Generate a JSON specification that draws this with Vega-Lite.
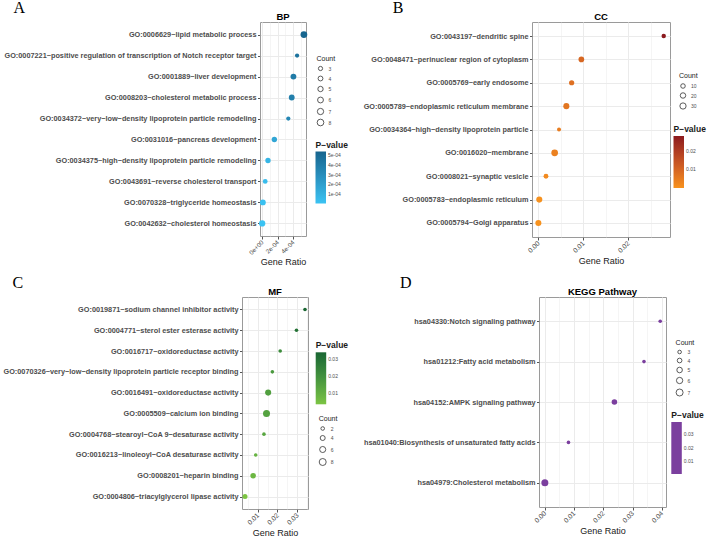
{
  "$schema": "https://vega.github.io/schema/vega-lite/v6.json",
  "padding": {"left": 2, "top": 0, "right": 0, "bottom": 0},
  "background": "white",
  "datasets": {
    "bp": [
      {"term": "GO:0006629~lipid metabolic process", "pval": 0.000539, "count": 8},
      {"term": "GO:0007221~positive regulation of transcription of Notch receptor target", "pval": 0.000451, "count": 3},
      {"term": "GO:0001889~liver development", "pval": 0.000404, "count": 6},
      {"term": "GO:0008203~cholesterol metabolic process", "pval": 0.000382, "count": 6},
      {"term": "GO:0034372~very−low−density lipoprotein particle remodeling", "pval": 0.000338, "count": 3},
      {"term": "GO:0031016~pancreas development", "pval": 0.000158, "count": 5},
      {"term": "GO:0034375~high−density lipoprotein particle remodeling", "pval": 0.000076, "count": 5},
      {"term": "GO:0043691~reverse cholesterol transport", "pval": 0.00004, "count": 4},
      {"term": "GO:0070328~triglyceride homeostasis", "pval": 0.00001, "count": 6},
      {"term": "GO:0042632~cholesterol homeostasis", "pval": 0.000001, "count": 7}
    ],
    "cc": [
      {"term": "GO:0043197~dendritic spine", "pval": 0.0279, "count": 9},
      {"term": "GO:0048471~perinuclear region of cytoplasm", "pval": 0.00958, "count": 22},
      {"term": "GO:0005769~early endosome", "pval": 0.00742, "count": 17},
      {"term": "GO:0005789~endoplasmic reticulum membrane", "pval": 0.00624, "count": 27},
      {"term": "GO:0034364~high−density lipoprotein particle", "pval": 0.00461, "count": 5},
      {"term": "GO:0016020~membrane", "pval": 0.00364, "count": 36},
      {"term": "GO:0008021~synaptic vesicle", "pval": 0.00171, "count": 13},
      {"term": "GO:0005783~endoplasmic reticulum", "pval": 0.00022, "count": 27},
      {"term": "GO:0005794~Golgi apparatus", "pval": 0.00002, "count": 27}
    ],
    "mf": [
      {"term": "GO:0019871~sodium channel inhibitor activity", "pval": 0.03396, "count": 2},
      {"term": "GO:0004771~sterol ester esterase activity", "pval": 0.02965, "count": 2},
      {"term": "GO:0016717~oxidoreductase activity", "pval": 0.0214, "count": 2},
      {"term": "GO:0070326~very−low−density lipoprotein particle receptor binding", "pval": 0.01743, "count": 2},
      {"term": "GO:0016491~oxidoreductase activity", "pval": 0.0153, "count": 6},
      {"term": "GO:0005509~calcium ion binding", "pval": 0.01446, "count": 8},
      {"term": "GO:0004768~stearoyl−CoA 9−desaturase activity", "pval": 0.01317, "count": 2},
      {"term": "GO:0016213~linoleoyl−CoA desaturase activity", "pval": 0.009, "count": 2},
      {"term": "GO:0008201~heparin binding", "pval": 0.0077, "count": 5},
      {"term": "GO:0004806~triacylglycerol lipase activity", "pval": 0.00357, "count": 4}
    ],
    "kegg": [
      {"term": "hsa04330:Notch signaling pathway", "pval": 0.03945, "count": 3},
      {"term": "hsa01212:Fatty acid metabolism", "pval": 0.0339, "count": 3},
      {"term": "hsa04152:AMPK signaling pathway", "pval": 0.0238, "count": 5},
      {"term": "hsa01040:Biosynthesis of unsaturated fatty acids", "pval": 0.0081, "count": 3},
      {"term": "hsa04979:Cholesterol metabolism", "pval": 0.00003, "count": 7}
    ]
  },
  "concat": [
    {
      "concat": [
        {
          "title": {"text": "A", "anchor": "start", "font": "Liberation Serif", "fontSize": 16, "fontWeight": "normal", "dx": 10, "offset": -5},
          "vconcat": [
            {
              "width": 64, "height": 214,
              "view": {"strokeDash": [0, 18, 306, 232]},
              "title": {"text": "BP", "offset": 1, "dx": 9},
              "data": {"name": "bp"},
              "mark": {"type": "circle", "opacity": 1},
              "encoding": {
                "y": {"field": "term", "type": "nominal", "sort": null, "scale": {"type": "point", "padding": 0.6},
                  "axis": {"title": null, "grid": true, "offset": -18, "domain": true, "domainColor": "#9a9a9a", "domainWidth": 1}},
                "x": {"field": "pval", "type": "quantitative", "title": "Gene Ratio",
                  "scale": {"domain": [-0.000027, 0.000566], "range": [18, 64], "nice": false, "zero": false},
                  "axis": {"values": [0, 0.0001, 0.0002, 0.0003, 0.0004, 0.0005], "labelFontSize": 6.2,
                    "labelExpr": "abs(datum.value/0.0002 - round(datum.value/0.0002)) < 0.01 ? replace(replace(format(datum.value, '.0e'), 'e-', 'e-0'), 'e+', 'e+0') : ''",
                    "tickOpacity": {"condition": {"test": "abs(datum.value/0.0002 - round(datum.value/0.0002)) < 0.01", "value": 1}, "value": 0},
                    "gridWidth": {"condition": {"test": "abs(datum.value/0.0002 - round(datum.value/0.0002)) < 0.01", "value": 1}, "value": 0.5}}},
                "size": {"field": "count", "type": "quantitative", "scale": {"domain": [3, 8], "range": [18, 45]},
                  "legend": {"title": "Count", "values": [3, 4, 5, 6, 7, 8], "orient": "none", "legendX": 74.5, "legendY": 32.5, "titlePadding": 4}},
                "fill": {"field": "pval", "type": "quantitative", "scale": {"domain": [0.000001, 0.000539], "range": ["#3BC3F3", "#17658E"]},
                  "legend": {"title": "P−value", "values": [0.0001, 0.0002, 0.0003, 0.0004, 0.0005], "labelExpr": "replace(format(datum.value, '.0e'), 'e-', 'e-0')",
                    "orient": "none", "legendX": 73.5, "legendY": 118.5, "titleFontSize": 8.5, "titleFontWeight": "bold", "titlePadding": 2.5}}
              }
            }
          ]
        },
        {
          "title": {"text": "B", "anchor": "start", "font": "Liberation Serif", "fontSize": 16, "fontWeight": "normal", "dx": 30, "offset": -5},
          "vconcat": [
            {
              "width": 138, "height": 215,
              "title": {"text": "CC", "offset": 1},
              "data": {"name": "cc"},
              "mark": {"type": "circle", "opacity": 1},
              "encoding": {
                "y": {"field": "term", "type": "nominal", "sort": null, "scale": {"type": "point", "padding": 0.6}, "axis": {"title": null, "grid": true}},
                "x": {"field": "pval", "type": "quantitative", "title": "Gene Ratio",
                  "scale": {"domain": [-0.0014, 0.0293], "nice": false, "zero": false},
                  "axis": {"values": [0, 0.005, 0.01, 0.015, 0.02, 0.025],
                    "labelExpr": "abs(datum.value/0.01 - round(datum.value/0.01)) < 0.01 ? format(datum.value, '.2f') : ''",
                    "tickOpacity": {"condition": {"test": "abs(datum.value/0.01 - round(datum.value/0.01)) < 0.01", "value": 1}, "value": 0},
                    "gridWidth": {"condition": {"test": "abs(datum.value/0.01 - round(datum.value/0.01)) < 0.01", "value": 1}, "value": 0.5}}},
                "size": {"field": "count", "type": "quantitative", "scale": {"domain": [5, 36], "range": [16, 45]},
                  "legend": {"title": "Count", "values": [10, 20, 30], "orient": "none", "legendX": 147, "legendY": 50, "titlePadding": 4}},
                "fill": {"field": "pval", "type": "quantitative", "scale": {"domain": [0.00002, 0.0279], "range": ["#F7921E", "#8C1A1E"]},
                  "legend": {"title": "P−value", "values": [0.01, 0.02], "format": ".2f",
                    "orient": "none", "legendX": 141.5, "legendY": 103, "titleFontSize": 8.5, "titleFontWeight": "bold", "titlePadding": 2.5}}
              }
            }
          ]
        }
      ],
      "columns": 2,
      "align": "none",
      "spacing": 13,
      "resolve": {"scale": {"x": "independent", "y": "independent", "fill": "independent", "size": "independent"}}
    },
    {
      "concat": [
        {
          "title": {"text": "C", "anchor": "start", "font": "Liberation Serif", "fontSize": 16, "fontWeight": "normal", "dx": 10, "offset": -5},
          "vconcat": [
            {
              "width": 66, "height": 212,
              "title": {"text": "MF", "offset": 1},
              "data": {"name": "mf"},
              "mark": {"type": "circle", "opacity": 1},
              "encoding": {
                "y": {"field": "term", "type": "nominal", "sort": null, "scale": {"type": "point", "padding": 0.6}, "axis": {"title": null, "grid": true}},
                "x": {"field": "pval", "type": "quantitative", "title": "Gene Ratio",
                  "scale": {"domain": [0.00205, 0.03548], "nice": false, "zero": false},
                  "axis": {"values": [0.005, 0.01, 0.015, 0.02, 0.025, 0.03, 0.035],
                    "labelExpr": "abs(datum.value/0.01 - round(datum.value/0.01)) < 0.01 ? format(datum.value, '.2f') : ''",
                    "tickOpacity": {"condition": {"test": "abs(datum.value/0.01 - round(datum.value/0.01)) < 0.01", "value": 1}, "value": 0},
                    "gridWidth": {"condition": {"test": "abs(datum.value/0.01 - round(datum.value/0.01)) < 0.01", "value": 1}, "value": 0.5}}},
                "size": {"field": "count", "type": "quantitative", "scale": {"domain": [2, 8], "range": [13, 49]},
                  "legend": {"title": "Count", "values": [2, 4, 6, 8], "orient": "none", "legendX": 76.7, "legendY": 118, "titlePadding": 4}},
                "color": {"field": "pval", "type": "quantitative", "scale": {"domain": [0.00357, 0.03396], "range": ["#7CC443", "#1A6632"]},
                  "legend": {"title": "P−value", "values": [0.01, 0.02, 0.03], "format": ".2f",
                    "orient": "none", "legendX": 73.7, "legendY": 44.3, "titleFontSize": 8.5, "titleFontWeight": "bold", "titlePadding": 2.5}}
              }
            }
          ]
        },
        {
          "title": {"text": "D", "anchor": "start", "font": "Liberation Serif", "fontSize": 16, "fontWeight": "normal", "dx": 37, "offset": -5},
          "vconcat": [
            {
              "width": 127, "height": 210,
              "title": {"text": "KEGG Pathway", "offset": 1},
              "data": {"name": "kegg"},
              "mark": {"type": "circle", "opacity": 1},
              "encoding": {
                "y": {"field": "term", "type": "nominal", "sort": null, "scale": {"type": "point", "padding": 0.6}, "axis": {"title": null, "grid": true}},
                "x": {"field": "pval", "type": "quantitative", "title": "Gene Ratio",
                  "scale": {"domain": [-0.00197, 0.04142], "nice": false, "zero": false},
                  "axis": {"values": [0, 0.005, 0.01, 0.015, 0.02, 0.025, 0.03, 0.035, 0.04],
                    "labelExpr": "abs(datum.value/0.01 - round(datum.value/0.01)) < 0.01 ? format(datum.value, '.2f') : ''",
                    "tickOpacity": {"condition": {"test": "abs(datum.value/0.01 - round(datum.value/0.01)) < 0.01", "value": 1}, "value": 0},
                    "gridWidth": {"condition": {"test": "abs(datum.value/0.01 - round(datum.value/0.01)) < 0.01", "value": 1}, "value": 0.5}}},
                "size": {"field": "count", "type": "quantitative", "scale": {"domain": [3, 7], "range": [13, 49]},
                  "legend": {"title": "Count", "values": [3, 4, 5, 6, 7], "orient": "none", "legendX": 136.6, "legendY": 41.5, "titlePadding": 4}},
                "fill": {"field": "pval", "type": "quantitative", "scale": {"domain": [0.00003, 0.03945], "range": ["#7B3F9E", "#7B3F9E"]},
                  "legend": {"title": "P−value", "values": [0.01, 0.02, 0.03], "format": ".2f",
                    "orient": "none", "legendX": 132.3, "legendY": 114, "titleFontSize": 8.5, "titleFontWeight": "bold", "titlePadding": 2.5}}
              }
            }
          ]
        }
      ],
      "columns": 2,
      "align": "none",
      "spacing": 13,
      "resolve": {"scale": {"x": "independent", "y": "independent", "fill": "independent", "color": "independent", "size": "independent"}}
    }
  ],
  "columns": 1,
  "align": "none",
  "spacing": 7,
  "resolve": {"scale": {"x": "independent", "y": "independent", "fill": "independent", "color": "independent", "size": "independent"}},
  "config": {
    "font": "Liberation Sans",
    "view": {"stroke": "#9a9a9a", "strokeWidth": 1},
    "axis": {"domain": false, "gridColor": "#ebebeb", "tickColor": "#555555", "tickSize": 3, "labelColor": "#4d4d4d", "labelFont": "Liberation Sans", "titleFont": "Liberation Sans", "titleFontWeight": "normal", "titleColor": "#1a1a1a"},
    "axisY": {"labelFontSize": 7.3, "labelFontWeight": "bold", "labelPadding": 1.5, "labelLimit": 400, "tickSize": 2.5},
    "axisX": {"labelFontSize": 6.8, "labelAngle": -45, "labelAlign": "right", "labelBaseline": "middle", "labelOverlap": false, "titleFontSize": 9, "titlePadding": 2, "labelPadding": 2},
    "legend": {
      "padding": 0, "rowPadding": 1, "labelOffset": 4,
      "titleFont": "Liberation Sans", "titleFontSize": 7, "titleFontWeight": "normal", "titleColor": "#1a1a1a",
      "labelFont": "Liberation Sans", "labelFontSize": 5, "labelColor": "#4d4d4d",
      "symbolType": "circle", "symbolStrokeColor": "#333333", "symbolFillColor": "transparent", "symbolStrokeWidth": 0.8,
      "gradientLength": 52, "gradientThickness": 10.5, "gradientStrokeWidth": 0
    },
    "title": {"fontSize": 9.5, "fontWeight": "bold", "color": "#000000", "offset": 1, "font": "Liberation Sans"}
  }
}
